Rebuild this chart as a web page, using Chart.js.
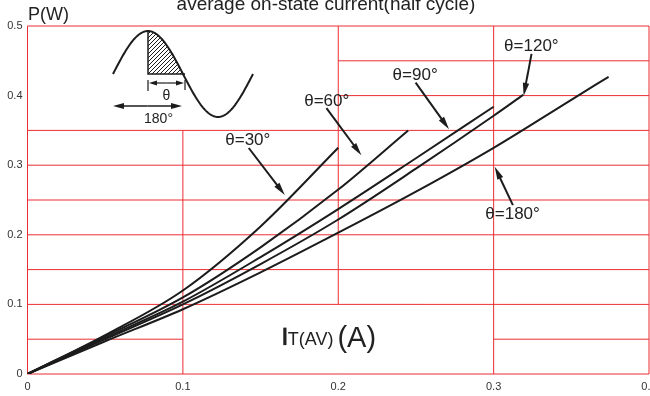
<!DOCTYPE html>
<html>
<head>
<meta charset="utf-8">
<script src="https://cdn.jsdelivr.net/npm/chart.js@4.4.0/dist/chart.umd.min.js"></script>
<style>
html, body { margin: 0; padding: 0; background: #fff; }
</style>
</head>
<body>
<canvas id="chart" width="650" height="396"></canvas>
<script>
// on-state power loss P(W) vs average current IT(AV), one curve per conduction angle
const current30 = [0, 0.05, 0.1, 0.15, 0.2];
const power30 = [0, 0.056, 0.12, 0.212, 0.325];

const current60 = [0, 0.05, 0.1, 0.15, 0.2, 0.245];
const power60 = [0, 0.054, 0.11, 0.182, 0.265, 0.35];

const current90 = [0, 0.05, 0.1, 0.15, 0.2, 0.25, 0.3];
const power90 = [0, 0.052, 0.104, 0.168, 0.237, 0.31, 0.384];

const current120 = [0, 0.05, 0.1, 0.15, 0.2, 0.25, 0.3, 0.319];
const power120 = [0, 0.05, 0.1, 0.158, 0.222, 0.295, 0.371, 0.401];

const current180 = [0, 0.05, 0.1, 0.15, 0.2, 0.25, 0.3, 0.35, 0.374];
const power180 = [0, 0.047, 0.093, 0.146, 0.203, 0.262, 0.325, 0.394, 0.427];

const xTicks = [0, 0.1, 0.2, 0.3, 0.4];
const yTicks = [0, 0.1, 0.2, 0.3, 0.4, 0.5];

// grid segments: [value, from, to]
const hGrid = [
    [0, 0, 0.4], [0.05, 0, 0.1], [0.05, 0.3, 0.4], [0.1, 0, 0.4], [0.15, 0, 0.4],
    [0.2, 0, 0.4], [0.25, 0, 0.4], [0.3, 0, 0.4], [0.35, 0, 0.4],
    [0.4, 0.2, 0.4], [0.45, 0.2, 0.4], [0.5, 0, 0.4]
];
const vGrid = [
    [0, 0, 0.5], [0.1, 0, 0.35], [0.2, 0.1, 0.5], [0.3, 0, 0.5], [0.4, 0, 0.5]
];

// curve labels: text, text centre, arrow tail, arrow head (data units)
const angleLabels = [
    ['θ=30°', [0.1418, 0.336], [0.1424, 0.3247], [0.1656, 0.2571]],
    ['θ=60°', [0.1926, 0.3924], [0.1924, 0.3819], [0.2149, 0.3142]],
    ['θ=90°', [0.2495, 0.4298], [0.2498, 0.4187], [0.2713, 0.3516]],
    ['θ=120°', [0.3243, 0.4705], [0.3244, 0.46], [0.3193, 0.3996]],
    ['θ=180°', [0.3122, 0.2298], [0.3124, 0.2427], [0.3007, 0.2978]]
];

const FONT = '"Liberation Sans", Arial, sans-serif';
const gridColor = 'rgb(235, 45, 50)';
const lineColor = '#1c1c1c';

function toPoints(xs, ys) {
    return xs.map((x, i) => ({ x: x, y: ys[i] }));
}

function makeSeries(label, xs, ys) {
    return {
        label: label,
        data: toPoints(xs, ys),
        borderColor: lineColor,
        borderWidth: 2,
        pointRadius: 0,
        fill: false,
        cubicInterpolationMode: 'monotone'
    };
}

function arrow(ctx, x0, y0, x1, y1, len, half) {
    const a = Math.atan2(y1 - y0, x1 - x0);
    ctx.beginPath();
    ctx.moveTo(x0, y0);
    ctx.lineTo(x1 - Math.cos(a) * len * 0.7, y1 - Math.sin(a) * len * 0.7);
    ctx.stroke();
    ctx.beginPath();
    ctx.moveTo(x1, y1);
    ctx.lineTo(x1 - Math.cos(a) * len - Math.sin(a) * half, y1 - Math.sin(a) * len + Math.cos(a) * half);
    ctx.lineTo(x1 - Math.cos(a) * len + Math.sin(a) * half, y1 - Math.sin(a) * len - Math.cos(a) * half);
    ctx.closePath();
    ctx.fill();
}

const gridPlugin = {
    id: 'partialGrid',
    beforeDatasetsDraw(chart) {
        const ctx = chart.ctx, sx = chart.scales.x, sy = chart.scales.y;
        ctx.save();
        ctx.strokeStyle = gridColor;
        ctx.lineWidth = 1;
        hGrid.forEach(([v, a, b]) => {
            const y = sy.getPixelForValue(v);
            ctx.beginPath();
            ctx.moveTo(sx.getPixelForValue(a), y);
            ctx.lineTo(sx.getPixelForValue(b), y);
            ctx.stroke();
        });
        vGrid.forEach(([v, a, b]) => {
            const x = sx.getPixelForValue(v);
            ctx.beginPath();
            ctx.moveTo(x, sy.getPixelForValue(a));
            ctx.lineTo(x, sy.getPixelForValue(b));
            ctx.stroke();
        });
        ctx.restore();
    }
};

function drawInset(ctx, ox, oy) {
    // sketch of the half-wave with the conducting part hatched
    const x0 = ox + 85.5, base = oy + 48, amp = 43, period = 140;
    const sine = x => base - amp * Math.sin(2 * Math.PI * (x - x0) / period);
    const xPeak = x0 + period / 4, xZero = x0 + period / 2;

    ctx.save();
    ctx.strokeStyle = lineColor;
    ctx.fillStyle = lineColor;

    // hatch
    ctx.save();
    ctx.beginPath();
    ctx.moveTo(xPeak, base);
    for (let x = xPeak; x <= xZero; x += 1) ctx.lineTo(x, sine(x));
    ctx.closePath();
    ctx.clip();
    ctx.lineWidth = 1;
    for (let k = -60; k < 60; k += 4) {
        ctx.beginPath();
        ctx.moveTo(xPeak + k, base);
        ctx.lineTo(xPeak + k + 50, base - 50);
        ctx.stroke();
    }
    ctx.restore();

    ctx.lineWidth = 2;
    ctx.beginPath();
    for (let x = x0; x <= x0 + period; x += 1) {
        if (x === x0) ctx.moveTo(x, sine(x)); else ctx.lineTo(x, sine(x));
    }
    ctx.stroke();

    ctx.lineWidth = 1.5;
    ctx.beginPath();
    ctx.moveTo(xPeak, sine(xPeak));
    ctx.lineTo(xPeak, base);
    ctx.lineTo(xZero + 2, base);
    ctx.stroke();

    // theta dimension
    ctx.lineWidth = 1.2;
    ctx.beginPath();
    ctx.moveTo(xPeak, base + 6); ctx.lineTo(xPeak, base + 17);
    ctx.moveTo(xZero + 2, base + 6); ctx.lineTo(xZero + 2, base + 16);
    ctx.stroke();
    const mid = (xPeak + xZero + 2) / 2;
    arrow(ctx, mid, base + 9, xPeak + 1, base + 9, 8, 2.5);
    arrow(ctx, mid, base + 9, xZero + 1, base + 9, 8, 2.5);

    // 180 degree span
    ctx.lineWidth = 1.5;
    const mid2 = (x0 + x0 + 69) / 2;
    arrow(ctx, mid2, base + 32, x0, base + 32, 11, 3);
    arrow(ctx, mid2, base + 32, x0 + 69, base + 32, 11, 3);

    ctx.font = '14px ' + FONT;
    ctx.textAlign = 'center';
    ctx.textBaseline = 'alphabetic';
    ctx.fillStyle = '#222';
    ctx.fillText('θ', mid, base + 26);
    ctx.fillText('180°', ox + 131, base + 49);
    ctx.restore();
}

const notesPlugin = {
    id: 'notes',
    afterDatasetsDraw(chart) {
        const ctx = chart.ctx, sx = chart.scales.x, sy = chart.scales.y;
        const area = chart.chartArea;
        ctx.save();
        ctx.fillStyle = '#222';
        ctx.strokeStyle = lineColor;

        // angle labels with arrows
        ctx.font = '17px ' + FONT;
        ctx.textAlign = 'center';
        ctx.textBaseline = 'middle';
        angleLabels.forEach(([text, c, t, h]) => {
            ctx.fillStyle = '#222';
            ctx.fillText(text, sx.getPixelForValue(c[0]), sy.getPixelForValue(c[1]));
            ctx.fillStyle = lineColor;
            ctx.lineWidth = 2;
            arrow(ctx, sx.getPixelForValue(t[0]), sy.getPixelForValue(t[1]),
                sx.getPixelForValue(h[0]), sy.getPixelForValue(h[1]), 13, 3.2);
        });

        drawInset(ctx, area.left, area.top);

        // top title (cut off by the image edge), y axis unit, x axis name
        ctx.fillStyle = '#222';
        ctx.textBaseline = 'alphabetic';
        ctx.textAlign = 'center';
        ctx.font = '19px ' + FONT;
        ctx.fillText('average on-state current(half cycle)', 326, 10);

        ctx.textAlign = 'left';
        ctx.font = '18px ' + FONT;
        ctx.fillText('P(W)', 28, 20);

        let x = sx.getPixelForValue(0.1643);
        const yb = sy.getPixelForValue(0.0415);
        ctx.fillRect(x + 0.5, yb - 17.5, 3.2, 17.5);
        x += 5;
        ctx.font = '18px ' + FONT;
        ctx.fillText('T(AV)', x, yb);
        x += ctx.measureText('T(AV)').width + 4;
        ctx.font = '29px ' + FONT;
        ctx.fillText('(A)', x, yb + 1.5);
        ctx.restore();
    }
};

Chart.defaults.font.family = FONT;

new Chart(document.getElementById('chart'), {
    type: 'line',
    data: {
        datasets: [
            makeSeries('θ=30°', current30, power30),
            makeSeries('θ=60°', current60, power60),
            makeSeries('θ=90°', current90, power90),
            makeSeries('θ=120°', current120, power120),
            makeSeries('θ=180°', current180, power180)
        ]
    },
    options: {
        responsive: false,
        devicePixelRatio: 1,
        animation: false,
        layout: { padding: { top: 26, right: 1, left: 0, bottom: 0 } },
        plugins: { legend: { display: false }, tooltip: { enabled: false } },
        scales: {
            x: {
                type: 'linear',
                min: xTicks[0],
                max: xTicks[xTicks.length - 1],
                afterBuildTicks: s => { s.ticks = xTicks.map(v => ({ value: v })); },
                ticks: { color: '#333', font: { size: 11 }, padding: 6, maxRotation: 0, autoSkip: false },
                grid: { display: false, drawTicks: false },
                border: { display: false },
                afterFit: s => { s.height = 22; s.paddingLeft = 0; s.paddingRight = 0; }
            },
            y: {
                type: 'linear',
                min: yTicks[0],
                max: yTicks[yTicks.length - 1],
                afterBuildTicks: s => { s.ticks = yTicks.map(v => ({ value: v })); },
                ticks: { color: '#333', font: { size: 11 }, padding: 5 },
                grid: { display: false, drawTicks: false },
                border: { display: false },
                afterFit: s => { s.width = 27.5; s.paddingTop = 0; s.paddingBottom = 0; }
            }
        }
    },
    plugins: [gridPlugin, notesPlugin]
});
</script>
</body>
</html>
